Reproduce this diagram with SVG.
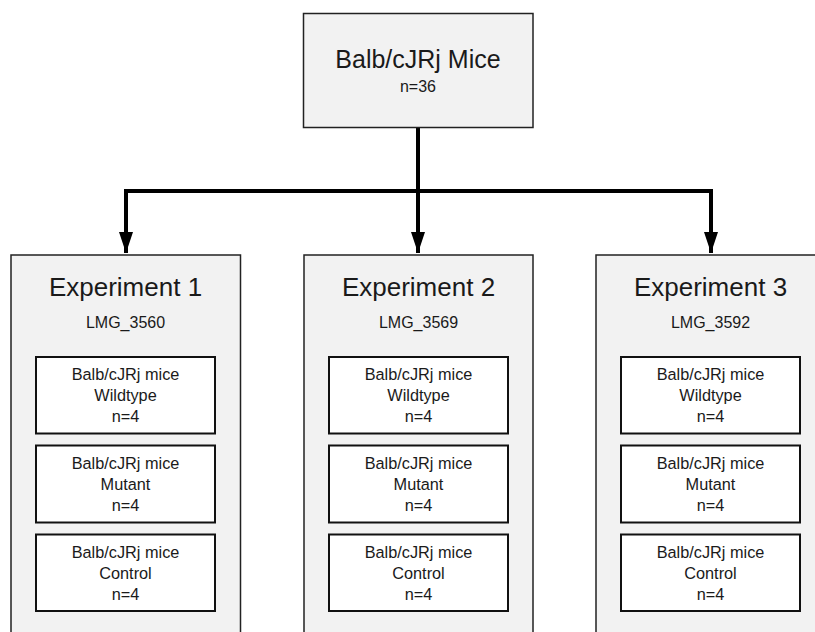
<svg xmlns="http://www.w3.org/2000/svg" width="815" height="632" viewBox="0 0 815 632">
<style>
text { font-family: "Liberation Sans", Arial, sans-serif; fill: #1a1a1a; text-anchor: middle; }
.outer { fill: #f2f2f2; stroke: #222; stroke-width: 1.5; }
.inner { fill: #ffffff; stroke: #111; stroke-width: 2; }
.title { font-size: 26px; }
.root { font-size: 25px; }
.sub { font-size: 16.3px; }
.small { font-size: 16px; }
.conn { fill: none; stroke: #000; stroke-width: 4; }
</style>
<defs>
<marker id="arrow" markerUnits="userSpaceOnUse" markerWidth="22" markerHeight="16" refX="21" refY="8" orient="auto" viewBox="0 0 22 16">
<path d="M0,1 L21,8 L0,15 Z" fill="#000"/>
</marker>
</defs>
<g id="connectors">
<path class="conn" d="M418,127 V191"/>
<path class="conn" d="M126,191 H711"/>
<path class="conn" d="M126,189 V253" marker-end="url(#arrow)"/>
<path class="conn" d="M418,189 V253" marker-end="url(#arrow)"/>
<path class="conn" d="M711,189 V253" marker-end="url(#arrow)"/>
</g>
<g id="root">
<rect class="outer" x="303.5" y="13.5" width="229.5" height="114"/>
<text class="root" x="418" y="68">Balb/cJRj Mice</text>
<text class="small" x="418" y="92">n=36</text>
</g>
<g id="exp1">
<rect class="outer" x="11" y="255" width="229.5" height="390"/>
<text class="title" x="125.5" y="296">Experiment 1</text>
<text class="small" x="125.5" y="328">LMG_3560</text>
<g id="exp1-wt">
<rect class="inner" x="36" y="357" width="179" height="76.5"/>
<text class="sub" x="125.5" y="380">Balb/cJRj mice</text>
<text class="sub" x="125.5" y="401">Wildtype</text>
<text class="sub" x="125.5" y="422">n=4</text>
</g>
<g id="exp1-mut">
<rect class="inner" x="36" y="445.5" width="179" height="77"/>
<text class="sub" x="125.5" y="469">Balb/cJRj mice</text>
<text class="sub" x="125.5" y="490">Mutant</text>
<text class="sub" x="125.5" y="511">n=4</text>
</g>
<g id="exp1-ctl">
<rect class="inner" x="36" y="534.5" width="179" height="76.5"/>
<text class="sub" x="125.5" y="558">Balb/cJRj mice</text>
<text class="sub" x="125.5" y="579">Control</text>
<text class="sub" x="125.5" y="600">n=4</text>
</g>
</g>
<g id="exp2">
<rect class="outer" x="304" y="255" width="229" height="390"/>
<text class="title" x="418.5" y="296">Experiment 2</text>
<text class="small" x="418.5" y="328">LMG_3569</text>
<g id="exp2-wt">
<rect class="inner" x="329" y="357" width="179" height="76.5"/>
<text class="sub" x="418.5" y="380">Balb/cJRj mice</text>
<text class="sub" x="418.5" y="401">Wildtype</text>
<text class="sub" x="418.5" y="422">n=4</text>
</g>
<g id="exp2-mut">
<rect class="inner" x="329" y="445.5" width="179" height="77"/>
<text class="sub" x="418.5" y="469">Balb/cJRj mice</text>
<text class="sub" x="418.5" y="490">Mutant</text>
<text class="sub" x="418.5" y="511">n=4</text>
</g>
<g id="exp2-ctl">
<rect class="inner" x="329" y="534.5" width="179" height="76.5"/>
<text class="sub" x="418.5" y="558">Balb/cJRj mice</text>
<text class="sub" x="418.5" y="579">Control</text>
<text class="sub" x="418.5" y="600">n=4</text>
</g>
</g>
<g id="exp3">
<rect class="outer" x="596" y="255" width="229" height="390"/>
<text class="title" x="710.5" y="296">Experiment 3</text>
<text class="small" x="710.5" y="328">LMG_3592</text>
<g id="exp3-wt">
<rect class="inner" x="621" y="357" width="179" height="76.5"/>
<text class="sub" x="710.5" y="380">Balb/cJRj mice</text>
<text class="sub" x="710.5" y="401">Wildtype</text>
<text class="sub" x="710.5" y="422">n=4</text>
</g>
<g id="exp3-mut">
<rect class="inner" x="621" y="445.5" width="179" height="77"/>
<text class="sub" x="710.5" y="469">Balb/cJRj mice</text>
<text class="sub" x="710.5" y="490">Mutant</text>
<text class="sub" x="710.5" y="511">n=4</text>
</g>
<g id="exp3-ctl">
<rect class="inner" x="621" y="534.5" width="179" height="76.5"/>
<text class="sub" x="710.5" y="558">Balb/cJRj mice</text>
<text class="sub" x="710.5" y="579">Control</text>
<text class="sub" x="710.5" y="600">n=4</text>
</g>
</g>
</svg>
